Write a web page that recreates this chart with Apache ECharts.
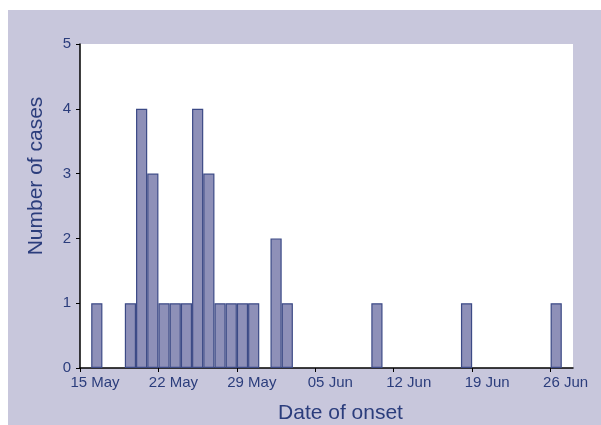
<!DOCTYPE html>
<html>
<head>
<meta charset="utf-8">
<script src="https://cdn.jsdelivr.net/npm/echarts@6/dist/echarts.min.js"></script>
<style>
  html, body { margin: 0; padding: 0; background: #ffffff; }
  #chart { width: 601px; height: 425px; }
</style>
</head>
<body>
<div id="chart"></div>
<script>
// days counted from 15 May
var startDay = new Date(2000, 4, 15);
var onsetDays = [1, 4, 5, 6, 7, 8, 9, 10, 11, 12, 13, 14, 15, 17, 18, 26, 34, 42];
var cases = [1, 1, 4, 3, 1, 1, 1, 4, 3, 1, 1, 1, 1, 2, 1, 1, 1, 1];
var months = ["Jan", "Feb", "Mar", "Apr", "May", "Jun", "Jul", "Aug", "Sep", "Oct", "Nov", "Dec"];

var barData = [];
for (var i = 0; i < onsetDays.length; i++) {
    barData.push([onsetDays[i] + 0.5, cases[i]]);
}

function dayLabel(v) {
    var d = new Date(startDay.getTime());
    d.setDate(d.getDate() + v);
    var dd = d.getDate() < 10 ? "0" + d.getDate() : "" + d.getDate();
    return dd + " " + months[d.getMonth()];
}

var textColor = "#2b3d7c";
var chart = echarts.init(document.getElementById("chart"));
chart.setOption({
    backgroundColor: "#ffffff",
    graphic: [{
        type: "rect",
        left: 8, top: 10,
        shape: { width: 593, height: 415 },
        style: { fill: "#c8c7dc" },
        z: -10
    }],
    grid: {
        left: 80, top: 44, right: 28, bottom: 57,
        outerBoundsMode: "none",
        containLabel: false,
        show: true,
        backgroundColor: "#ffffff",
        borderWidth: 0
    },
    xAxis: {
        type: "value",
        min: 0,
        max: 44,
        interval: 7,
        name: "Date of onset",
        nameLocation: "middle",
        nameGap: 35,
        nameTextStyle: { color: textColor, fontSize: 21, fontFamily: "Liberation Sans", padding: [0, 0, 0, 28] },
        splitLine: { show: false },
        axisLine: { show: true, lineStyle: { color: "#000000", width: 1.5 } },
        axisTick: { show: true, length: 4, lineStyle: { color: "#000000" } },
        axisLabel: {
            color: textColor, fontSize: 15, fontFamily: "Liberation Sans",
            margin: 7, padding: [0, 0, 0, 30],
            showMaxLabel: false,
            formatter: function (v) { return dayLabel(v); }
        }
    },
    yAxis: {
        type: "value",
        min: 0,
        max: 5,
        interval: 1,
        name: "Number of cases",
        nameLocation: "middle",
        nameGap: 33,
        nameTextStyle: { color: textColor, fontSize: 21, fontFamily: "Liberation Sans", padding: [0, 0, 0, 60] },
        splitLine: { show: false },
        axisLine: { show: true, lineStyle: { color: "#000000", width: 1.5 } },
        axisTick: { show: true, length: 4, lineStyle: { color: "#000000" } },
        axisLabel: { color: textColor, fontSize: 15, fontFamily: "Liberation Sans", margin: 9 }
    },
    series: [{
        type: "bar",
        data: barData,
        barWidth: 11.2,
        itemStyle: {
            color: "#8e90b8",
            borderColor: "#3c4a86",
            borderWidth: 1.2
        },
        silent: true
    }]
});
</script>
</body>
</html>
